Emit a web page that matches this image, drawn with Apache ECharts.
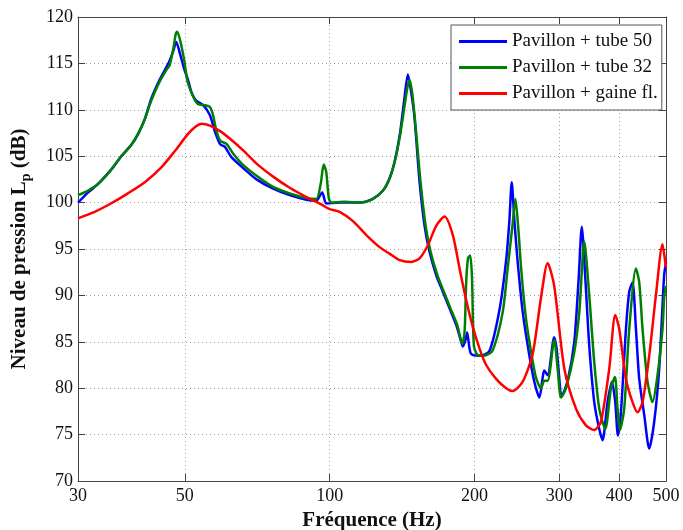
<!DOCTYPE html>
<html>
<head>
<meta charset="utf-8">
<script src="https://cdn.jsdelivr.net/npm/echarts@6.0.0/dist/echarts.min.js"></script>
<style>
html,body{margin:0;padding:0;background:#fff;}
#chart{width:683px;height:530px;}
</style>
</head>
<body>
<div id="chart"></div>
<script>
// ---- data (frequency in Hz, level in dB) ----
const seriesNames = ['Pavillon + tube 50', 'Pavillon + tube 32', 'Pavillon + gaine fl.'];
const xTicks = [30, 50, 100, 200, 300, 400, 500];
const yTicks = [70, 75, 80, 85, 90, 95, 100, 105, 110, 115, 120];

const tube50 = [
 [30,100.0],[31.5,101.1],[33.0,102.0],[35.1,103.5],[36.9,105.0],[38.7,106.2],[40.0,107.4],[41.3,109.0],
 [42.6,111.2],[44.3,113.2],[45.8,114.6],[46.5,115.3],[47.3,116.3],[48.0,117.3],[48.9,116.0],[49.8,114.5],
 [50.8,113.2],[51.7,111.8],[52.8,111.0],[54.6,110.5],[56.4,109.4],[57.8,107.6],[59.2,106.3],[60.6,106.0],
 [62.5,104.9],[66.2,103.7],[70.5,102.5],[76.3,101.5],[82.6,100.8],[89.5,100.3],[93.8,100.2],[96.5,101.1],
 [98.5,99.9],[104.9,100.0],[115.4,100.0],[123.0,100.4],[129.1,101.3],[133.2,102.6],[136.5,104.4],[139.8,107.2],
 [142.7,110.8],[145.4,113.8],[148.1,111.5],[150.2,109.0],[153.8,102.2],[157.5,97.5],[161.3,94.7],[166.5,92.2],
 [171.9,90.4],[177.5,88.6],[183.3,86.8],[187.7,85.0],[189.2,84.5],[191.6,85.2],[193.1,86.0],[195.0,84.5],
 [196.8,83.7],[204.8,83.5],[214.8,84.0],[225.3,88.4],[232.7,93.8],[236.3,98.0],[239.0,102.2],[242.1,98.0],
 [245.9,93.6],[251.9,88.2],[260.1,83.5],[266.3,80.7],[272.8,79.0],[279.4,81.9],[283.8,81.4],[292.9,85.5],
 [296.2,84.3],[304.0,79.2],[312.3,80.8],[322.4,85.0],[329.2,91.8],[334.2,97.4],[339.9,91.8],[346.3,84.6],
 [354.7,78.5],[363.3,75.6],[369.1,74.4],[378.0,78.5],[386.0,80.7],[392.2,78.5],[397.2,74.9],[403.0,77.4],
 [412.8,86.4],[419.4,90.4],[426.0,91.4],[433.0,86.4],[439.9,81.0],[450.6,77.1],[461.4,73.5],[472.6,76.4],
 [484.0,82.1],[495.6,92.2],[500,93.5]
];

const tube32 = [
 [30,100.8],[31.5,101.3],[33.0,102.0],[35.1,103.5],[36.9,105.0],[38.7,106.2],[40.0,107.4],[41.3,109.0],
 [42.6,111.0],[44.3,113.0],[45.8,114.3],[46.5,114.8],[47.3,116.5],[47.9,118.2],[48.2,118.4],[48.9,117.5],
 [49.8,115.5],[50.7,113.0],[52.2,111.3],[53.3,110.6],[55.1,110.5],[56.4,110.3],[57.2,109.5],[58.0,108.0],
 [59.2,106.7],[61.1,106.3],[63.0,105.3],[66.0,104.1],[70.5,102.9],[76.3,101.7],[82.6,101.0],[89.5,100.5],
 [93.8,100.4],[95.8,102.0],[97.2,104.1],[98.4,103.3],[99.6,100.5],[100.8,100.0],[107.5,100.1],[115.4,100.0],
 [123.0,100.4],[129.1,101.3],[133.2,102.6],[136.5,104.4],[139.8,107.0],[143.2,110.5],[145.2,112.5],[146.6,113.2],
 [148.7,111.5],[151.6,107.0],[154.5,102.2],[158.3,97.5],[162.1,94.7],[167.4,92.2],[172.7,90.4],[178.3,88.6],
 [184.2,86.8],[188.6,84.8],[190.7,86.0],[192.2,91.4],[193.9,94.0],[195.9,94.3],[197.6,92.0],[199.4,84.6],
 [202.9,83.6],[209.8,83.5],[218.3,84.1],[228.9,88.2],[234.5,93.0],[239.8,97.5],[243.3,100.4],[246.8,97.0],
 [250.0,92.9],[255.2,88.0],[260.1,85.0],[268.2,81.2],[275.0,80.0],[279.4,80.8],[283.8,80.8],[292.9,85.2],
 [297.7,82.1],[302.6,79.0],[309.9,80.0],[322.4,83.9],[330.2,88.2],[338.2,95.8],[346.3,90.0],[354.7,82.8],
 [363.3,77.8],[373.9,75.6],[384.2,80.0],[391.6,81.2],[396.5,77.8],[401.1,75.5],[409.4,77.8],[419.4,86.4],
 [433.0,92.9],[439.9,91.4],[446.9,86.4],[457.7,80.7],[468.7,78.5],[480.1,81.4],[491.7,86.4],[496,90.0],[500,91.0]
];

const gaine = [
 [30,98.3],[32.5,99.0],[35.1,99.9],[38.1,101.0],[41.3,102.2],[44.7,103.8],[47.6,105.5],[50.8,107.4],
 [52.7,108.2],[54.2,108.5],[56.4,108.3],[59.2,107.7],[62.0,106.9],[66.2,105.6],[70.5,104.2],[76.3,102.8],
 [82.6,101.6],[89.5,100.6],[95.4,99.9],[100.0,99.3],[104.9,99.0],[111.8,98.0],[119.2,96.5],[127.0,95.2],
 [133.2,94.5],[139.8,93.8],[147.8,93.6],[153.8,94.0],[160.0,95.4],[166.5,97.5],[173.3,98.5],[180.3,96.5],
 [186.2,92.9],[192.2,89.5],[198.4,86.6],[204.8,84.3],[211.5,82.5],[221.8,81.0],[232.7,80.0],[240.1,79.7],
 [251.9,80.7],[264.2,83.7],[275.0,89.8],[283.8,93.5],[292.9,91.0],[307.4,82.1],[325.0,77.8],[340.9,76.0],
 [354.7,75.5],[366.3,76.4],[381.1,82.1],[392.2,87.9],[399.7,86.4],[412.8,81.0],[426.0,78.5],[436.3,77.4],
 [446.9,78.5],[461.4,83.5],[476.4,90.0],[491.7,95.5],[498.2,93.6],[500,93.0]
];

const colors = ['#0000ff', '#008000', '#ff0000'];
const FONT = 'Liberation Serif';

const chart = echarts.init(document.getElementById('chart'), null, {renderer: 'canvas'});

const axisColor = '#444';
const gridLine = {show: true, lineStyle: {color: '#a0a0a0', width: 1, type: [1, 3]}};

const option = {
  animation: false,
  backgroundColor: '#fff',
  grid: {left: 78, right: 17, top: 17, bottom: 49, containLabel: false, outerBoundsMode: 'none'},
  legend: {
    orient: 'vertical', left: 451, top: 25,
    padding: [7, 4, 7, 8], itemGap: 7, itemWidth: 48, itemHeight: 3,
    icon: 'rect',
    backgroundColor: '#fff', borderColor: '#555', borderWidth: 1, borderRadius: 0,
    textStyle: {fontFamily: FONT, fontSize: 19, color: '#111', lineHeight: 18},
    data: seriesNames
  },
  xAxis: [{
    type: 'log', logBase: 10, min: 30, max: 500, position: 'bottom',
    axisLine: {show: true, onZero: false, lineStyle: {color: axisColor, width: 1}},
    axisTick: {show: true, inside: true, length: 7, customValues: xTicks, lineStyle: {color: axisColor}},
    axisLabel: {show: true, customValues: xTicks, fontFamily: FONT, fontSize: 18, color: '#111', margin: 6,
                formatter: v => String(Math.round(v))},
    splitLine: gridLine,
    minorTick: {show: false}, minorSplitLine: {show: false},
    name: 'Fréquence (Hz)', nameLocation: 'middle', nameGap: 28,
    nameTextStyle: {fontFamily: FONT, fontSize: 21, fontWeight: 'bold', color: '#111'}
  }, {
    type: 'log', logBase: 10, min: 30, max: 500, position: 'top',
    axisLine: {show: true, onZero: false, lineStyle: {color: axisColor, width: 1}},
    axisTick: {show: true, inside: true, length: 7, customValues: xTicks, lineStyle: {color: axisColor}},
    axisLabel: {show: false, customValues: xTicks},
    splitLine: {show: false}
  }],
  yAxis: [{
    type: 'value', min: 70, max: 120, interval: 5, position: 'left',
    axisLine: {show: true, onZero: false, lineStyle: {color: axisColor, width: 1}},
    axisTick: {show: true, inside: true, length: 7, lineStyle: {color: axisColor}},
    axisLabel: {show: true, fontFamily: FONT, fontSize: 18, color: '#111', margin: 5},
    splitLine: gridLine,
    name: 'Niveau de pression L{sub|p} (dB)', nameLocation: 'middle', nameGap: 45,
    nameTextStyle: {fontFamily: FONT, fontSize: 21, fontWeight: 'bold', color: '#111', lineHeight: 26,
      rich: {sub: {fontFamily: FONT, fontSize: 14, fontWeight: 'bold', color: '#111', verticalAlign: 'bottom', lineHeight: 14}}}
  }, {
    type: 'value', min: 70, max: 120, interval: 5, position: 'right',
    axisLine: {show: true, onZero: false, lineStyle: {color: axisColor, width: 1}},
    axisTick: {show: true, inside: true, length: 7, lineStyle: {color: axisColor}},
    axisLabel: {show: false},
    splitLine: {show: false}
  }],
  series: [tube50, tube32, gaine].map((d, i) => ({
    name: seriesNames[i], type: 'line', xAxisIndex: 0, yAxisIndex: 0,
    data: d, showSymbol: false, symbol: 'none', smooth: 0.25,
    color: colors[i],
    lineStyle: {color: colors[i], width: 2.5},
    itemStyle: {color: colors[i]},
    z: 3 + i
  }))
};
chart.setOption(option);
</script>
</body>
</html>
